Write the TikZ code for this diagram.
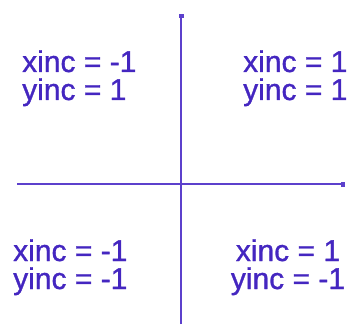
\documentclass[tikz,border=0pt]{standalone}
\usepackage{fontspec}
\setmainfont{Liberation Sans}
\newfontfamily\incfont{Liberation Sans}[UprightFeatures={FakeBold=1.0}]
\usepackage{xcolor}
\usetikzlibrary{arrows.meta}
\definecolor{incblue}{RGB}{68,38,192}
\definecolor{axisblue}{RGB}{92,64,204}

\begin{document}
\begin{tikzpicture}[
    x=1pt, y=1pt,
    inclabel/.style={
        text=incblue,
        inner sep=0pt,
        font=\incfont\fontsize{30}{28}\selectfont
    },
    axis/.style={
        draw=axisblue,
        line width=2.2pt,
        -{Square[length=4pt,width=5pt]}
    }
]
\useasboundingbox (0,0) rectangle (347,324);

\coordinate (xstart) at (17,140);
\coordinate (xend) at (345,140);
\coordinate (ystart) at (181,0);
\coordinate (yend) at (181,310);

\draw[axis] (xstart) -- (xend);
\draw[axis] (ystart) -- (yend);

\node[inclabel, align=left, anchor=base west] (tl) at (22,224) {xinc = -1\\yinc = 1};
\node[inclabel, align=left, anchor=base west] (tr) at (243,224) {xinc = 1\\yinc = 1};
\node[inclabel, align=left, anchor=base west] (bl) at (13,35) {xinc = -1\\yinc = -1};
\node[inclabel, align=center, anchor=base] (br) at (288,35) {xinc = 1\\yinc = -1};
\end{tikzpicture}
\end{document}
